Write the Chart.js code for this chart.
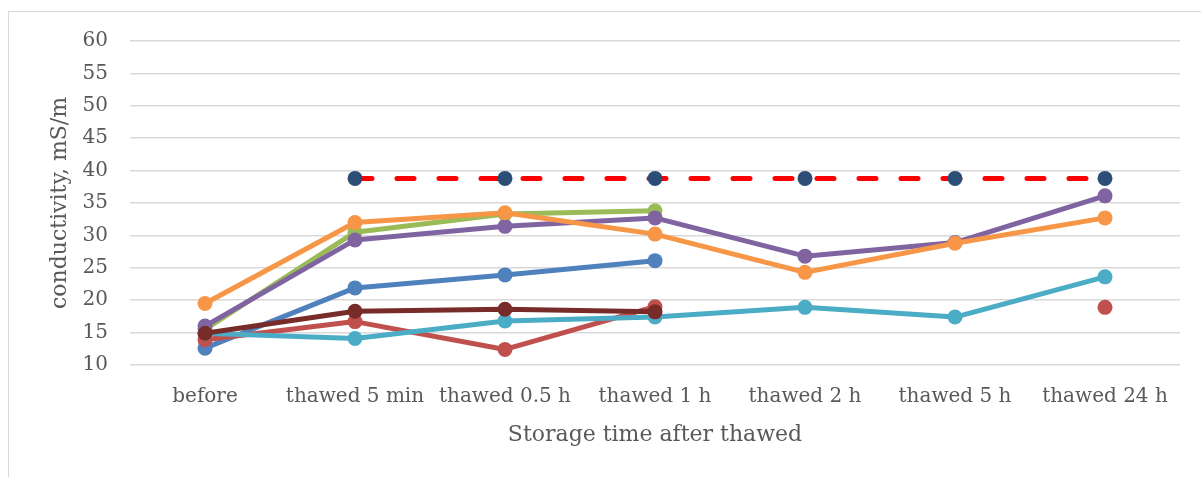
<!DOCTYPE html>
<html>
<head>
<meta charset="utf-8">
<script src="https://cdn.jsdelivr.net/npm/chart.js@4"></script>
<style>
  html, body { margin: 0; padding: 0; background: #fff; }
  #frame { position: absolute; left: 8px; top: 11px; width: 1200px; height: 480px;
           border-left: 1px solid #d9d9d9; border-top: 1px solid #d9d9d9; }
  #chart { position: absolute; left: 0; top: 0; }
</style>
</head>
<body>
<div id="frame"></div>
<canvas id="chart" width="1201" height="477"></canvas>
<script>
// categories (storage time after thawing)
const categories = ['before', 'thawed 5 min', 'thawed 0.5 h', 'thawed 1 h', 'thawed 2 h', 'thawed 5 h', 'thawed 24 h'];

// series values, mS/m (null = no measurement)
const blueVals    = [12.6, 21.9, 23.9, 26.1, null, null, null];
const redVals     = [13.9, 16.7, 12.4, 19.0, null, null, 18.9];
const greenVals   = [15.5, 30.5, 33.3, 33.8, null, null, null];
const purpleVals  = [16.0, 29.3, 31.4, 32.7, 26.8, 28.9, 36.1];
const tealVals    = [14.9, 14.1, 16.8, 17.4, 18.9, 17.4, 23.6];
const orangeVals  = [19.5, 32.0, 33.5, 30.2, 24.3, 28.8, 32.7];
const limitVals   = [null, 38.8, 38.8, 38.8, 38.8, 38.8, 38.8];
const darkRedVals = [14.9, 18.3, 18.6, 18.2, null, null, null];

// y axis ticks
const yMin = 10, yMax = 60, yStep = 5;

const textColor = '#595959';
const fontFamily = '"DejaVu Serif", serif';

// Excel series order; later series sit on top
const seriesDefs = [
    { data: blueVals,    color: '#4f81bd' },
    { data: redVals,     color: '#c0504d' },
    { data: greenVals,   color: '#9bbb59' },
    { data: purpleVals,  color: '#8064a2' },
    { data: tealVals,    color: '#4bacc6' },
    { data: orangeVals,  color: '#f79646' },
    { data: limitVals,   color: '#ff0000', point: '#2c4d75', dash: [17, 25] },
    { data: darkRedVals, color: '#772c2a' },
];

const datasets = seriesDefs.map((s, i) => ({
    data: s.data,
    borderColor: s.color,
    backgroundColor: s.point || s.color,
    pointBackgroundColor: s.point || s.color,
    pointBorderColor: s.point || s.color,
    pointBorderWidth: 0,
    pointRadius: 7.5,
    borderWidth: 5,
    borderDash: s.dash || [],
    borderCapStyle: 'round',
    borderJoinStyle: 'round',
    spanGaps: false,
    tension: 0,
    order: seriesDefs.length - i,
}));

new Chart(document.getElementById('chart'), {
    type: 'line',
    data: { labels: categories, datasets },
    options: {
        responsive: false,
        animation: false,
        devicePixelRatio: 1,
        layout: { padding: { left: 40, top: 41, right: 21, bottom: 17 } },
        plugins: { legend: { display: false }, tooltip: { enabled: false } },
        scales: {
            x: {
                offset: true,
                grid: { display: false, drawTicks: false },
                border: { display: false },
                ticks: { color: textColor, font: { family: fontFamily, size: 20 }, padding: 20, maxRotation: 0, autoSkip: false },
                title: { display: true, text: 'Storage time after thawed', color: textColor,
                         font: { family: fontFamily, size: 22 }, padding: { top: 0, bottom: 12 } },
                afterFit: s => { s.height = 95; },
            },
            y: {
                min: yMin, max: yMax,
                grid: { color: '#d9d9d9', lineWidth: 1.5, drawTicks: false },
                border: { display: false },
                ticks: { stepSize: yStep, color: textColor, font: { family: fontFamily, size: 20 }, padding: 22 },
                title: { display: true, text: 'conductivity, mS/m', color: textColor,
                         font: { family: fontFamily, size: 22 }, padding: { top: 7, bottom: 0 } },
                afterFit: s => { s.width = 90; },
            },
        },
    },
});
</script>
</body>
</html>
